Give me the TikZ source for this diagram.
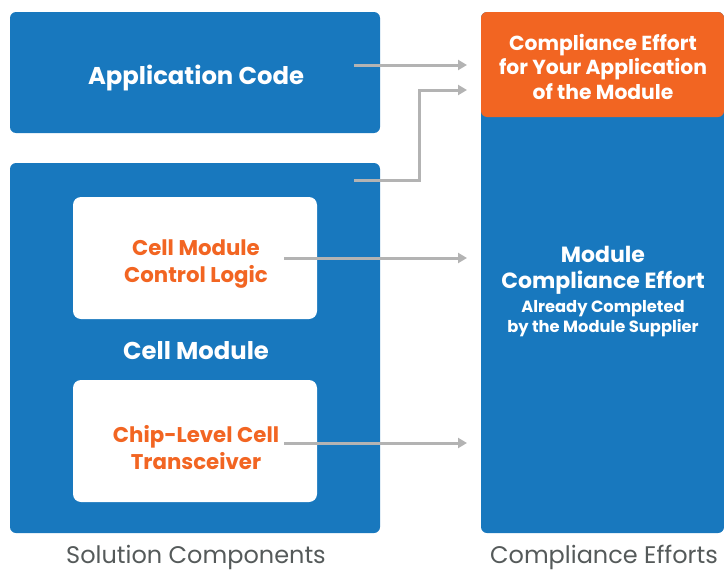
\documentclass[tikz,border=0pt]{standalone}
\usepackage{fontspec}
\setmainfont{Poppins}
\usetikzlibrary{arrows.meta}
\definecolor{cblue}{HTML}{1878BE}
\definecolor{corange}{HTML}{F26522}
\definecolor{carrow}{HTML}{B3B3B3}
\definecolor{ctext}{HTML}{555A5A}
\tikzset{
  bluebox/.style={fill=cblue, rounded corners=6pt, draw=none, inner sep=0pt},
  whitebox/.style={fill=white, rounded corners=8pt, draw=none, inner sep=0pt, minimum width=244pt, minimum height=122pt},
  orangetext/.style={text=corange, font=\bfseries\fontsize{21.3}{27}\selectfont, align=center},
  titletext/.style={text=white, font=\bfseries\fontsize{24.3}{28}\selectfont, align=center},
  foot/.style={text=ctext, font=\fontsize{24}{28}\selectfont, inner sep=0pt},
  conn/.style={draw=carrow, line width=3pt, -{Triangle[length=9pt,width=10pt]}}
}
\begin{document}
\begin{tikzpicture}[x=1pt,y=-1pt]
\useasboundingbox (0,0) rectangle (724,573);
% left boxes
\node[bluebox, minimum width=370pt, minimum height=121pt] (app) at (195,72.5) {};
\node[titletext] (apptxt) at (196,78) {Application Code};
\node[bluebox, minimum width=370pt, minimum height=370pt] (cell) at (195,348) {};
\node[whitebox] (ctrl) at (195,258) {};
\node[orangetext] (ctrltxt) at (196,264) {Cell Module\\Control Logic};
\node[whitebox] (chip) at (195,441) {};
\node[orangetext] (chiptxt) at (196,448) {Chip-Level Cell\\Transceiver};
\node[titletext] (celltxt) at (196,351) {Cell Module};
% right column
\node[bluebox, minimum width=243pt, minimum height=521pt] (mod) at (602.5,272.5) {};
\node[fill=corange, rounded corners=6pt, inner sep=0pt, minimum width=243pt, minimum height=105pt] (orange) at (602.5,64.5) {};
\node[text=white, font=\bfseries\fontsize{20.3}{24.5}\selectfont, align=center] (otxt) at (603,66.5) {Compliance Effort\\for Your Application\\of the Module};
\node[text=white, font=\bfseries\fontsize{22}{26}\selectfont, align=center] (mtxt) at (603,270) {Module\\Compliance Effort};
\node[text=white, font=\bfseries\fontsize{16.3}{20}\selectfont, align=center] (mtxt2) at (603,319) {Already Completed\\by the Module Supplier};
% footers
\node[foot, anchor=base] (f1) at (196,563) {Solution Components};
\node[foot, anchor=base] (f2) at (604,563) {Compliance Efforts};
% connectors
\coordinate (s1) at (354,65);
\coordinate (e1) at (467,65);
\coordinate (s2) at (354,180);
\coordinate (e2) at (467,90);
\coordinate (s3) at (284,258);
\coordinate (e3) at (467,258);
\coordinate (s4) at (284,443);
\coordinate (e4) at (467,443);
\draw[conn] (s1) -- (e1);
\draw[conn] (s2) -- (419,180) -- (419,90) -- (e2);
\draw[conn] (s3) -- (e3);
\draw[conn] (s4) -- (e4);
\end{tikzpicture}
\end{document}
